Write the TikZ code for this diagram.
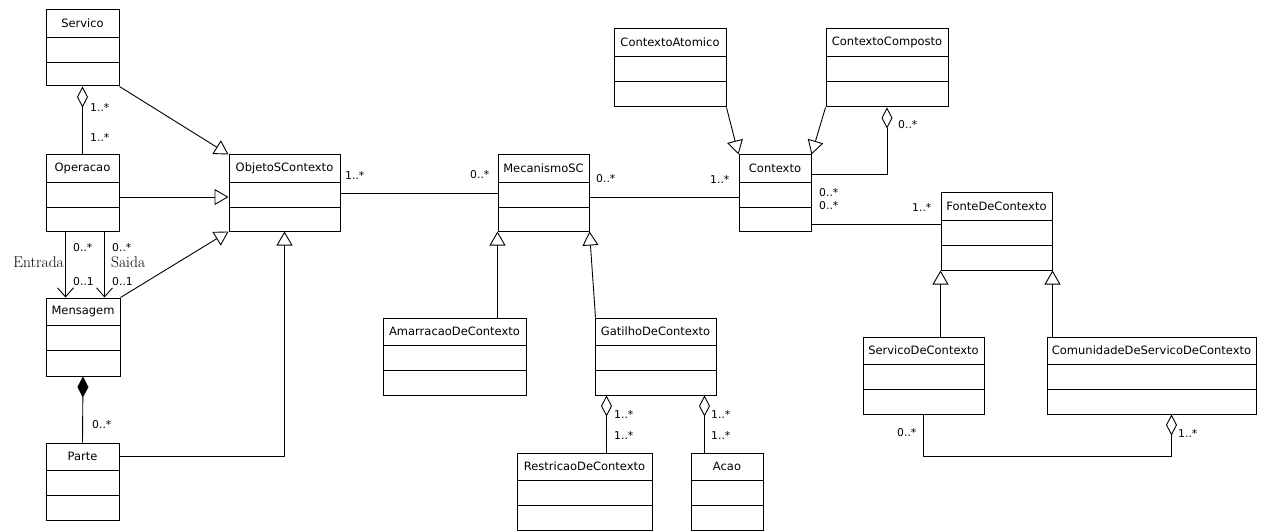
\documentclass[tikz,border=0pt]{standalone}
\usepackage{fontspec}
\newfontfamily\clsfont{DejaVu Sans}
\usetikzlibrary{arrows.meta,calc,fit}
\tikzset{
 cls/.style={draw, line width=1pt, inner sep=0pt},
 conn/.style={line width=0.9pt},
 gen/.style={conn, -{Triangle[open, length=14pt, width=16pt, line width=0.9pt]}},
 agg/.style={conn, {Diamond[open, length=21pt, width=11pt, line width=0.9pt]}-},
 comp/.style={conn, {Diamond[length=21pt, width=11pt]}-},
 nav/.style={conn, -{Straight Barb[length=9pt, width=16pt, line width=0.9pt]}},
 mult/.style={font=\clsfont\fontsize{10.8}{12}\selectfont, inner sep=0pt, anchor=west},
 cname/.style={font=\clsfont\fontsize{11.5}{13}\selectfont, inner sep=0pt},
 rolel/.style={font=\fontsize{15.5}{17}\selectfont, inner sep=0pt},
}
\newcommand\umlclass[6]{%
 \node[cls, fit={(#2,#3) (#4,#5)}] (#1) {};
 \node[cname] at ($(#1.north)+(0,14)$) {#6};
 \draw[line width=1pt] ($(#1.north west)+(0,28)$) -- ($(#1.north east)+(0,28)$);
 \draw[line width=1pt] ($(#1.north west)+(0,53)$) -- ($(#1.north east)+(0,53)$);
}
\begin{document}
\begin{tikzpicture}[x=1pt, y=-1pt]
\useasboundingbox (0,0) rectangle (1267,532);
% classes
\umlclass{servico}{46}{10}{119}{86}{Servico}
\umlclass{operacao}{46}{155}{119}{231}{Operacao}
\umlclass{objeto}{229}{155}{340}{231}{ObjetoSContexto}
\umlclass{mensagem}{46}{298}{120}{376}{Mensagem}
\umlclass{parte}{46}{443}{119}{520}{Parte}
\umlclass{mecanismo}{498}{155}{589}{231}{MecanismoSC}
\umlclass{amarracao}{383}{318}{526}{395}{AmarracaoDeContexto}
\umlclass{gatilho}{595}{318}{716}{395}{GatilhoDeContexto}
\umlclass{restricao}{517}{453}{652}{530}{RestricaoDeContexto}
\umlclass{acao}{691}{453}{763}{530}{Acao}
\umlclass{atomico}{614}{29}{726}{107}{ContextoAtomico}
\umlclass{composto}{826}{29}{948}{107}{ContextoComposto}
\umlclass{contexto}{739}{155}{811}{231}{Contexto}
\umlclass{fonte}{941}{193}{1052}{270}{FonteDeContexto}
\umlclass{servctx}{863}{337}{984}{414}{ServicoDeContexto}
\umlclass{comun}{1047}{337}{1256}{414}{ComunidadeDeServicoDeContexto}
% left part
\draw[agg] (servico.south) -- (operacao.north);
\draw[gen] (servico.south east) -- (objeto.north west);
\draw[gen] ($(operacao.east)+(0,4)$) -- ($(objeto.west)+(0,4)$);
\draw[gen] (mensagem.north east) -- (objeto.south west);
\draw[nav] ($(operacao.south west)+(20,0)$) coordinate (e1) -- (e1 |- mensagem.north);
\draw[nav] ($(operacao.south west)+(59,0)$) coordinate (s1) -- (s1 |- mensagem.north);
\draw[comp] (mensagem.south) -- (parte.north);
\draw[gen] ($(parte.north east)+(0,14)$) -| (objeto.south);
% middle
\draw[conn] (objeto.east) -- (mecanismo.west);
\draw[conn] ($(mecanismo.east)+(0,4)$) coordinate (m1) -- (m1 -| contexto.west);
\draw[gen] (amarracao.north -| mecanismo.south west) -- (mecanismo.south west);
\draw[gen] ($(gatilho.north west)+(1,0)$) -- (mecanismo.south east);
\draw[agg] ($(gatilho.south west)+(12,0)$) coordinate (g1) -- (g1 |- restricao.north);
\draw[agg] ($(gatilho.south east)+(-12,0)$) coordinate (g2) -- (g2 |- acao.north);
% right
\draw[gen] (atomico.south east) -- (contexto.north west);
\draw[gen] (composto.south west) -- (contexto.north east);
\draw[agg] (composto.south) |- ($(contexto.north east)+(0,20)$);
\draw[conn] ($(contexto.south east)+(0,-7)$) coordinate (c1) -- (c1 -| fonte.west);
\draw[gen] (servctx.north -| fonte.south west) -- (fonte.south west);
\draw[gen] (comun.north -| fonte.south east) -- (fonte.south east);
\draw[agg] ($(comun.south)+(20,0)$) -- ++(0,42) -| (servctx.south);
% labels
\node[mult] (l1) at (90,107) {1..*};
\node[mult] (l2) at (90,137) {1..*};
\node[mult] (l3) at (73,248) {0..*};
\node[rolel, anchor=east] (l4) at (64,262) {Entrada};
\node[mult] (l5) at (73,282) {0..1};
\node[mult] (l6) at (112,248) {0..*};
\node[rolel, anchor=west] (l7) at (111,262) {Saida};
\node[mult] (l8) at (112,282) {0..1};
\node[mult] (l9) at (92,425) {0..*};
\node[mult] (l10) at (345,175) {1..*};
\node[mult] (l11) at (470,175) {0..*};
\node[mult] (l12) at (596,179) {0..*};
\node[mult] (l13) at (710,179) {1..*};
\node[mult] (l14) at (898,125) {0..*};
\node[mult] (l15) at (819,193) {0..*};
\node[mult] (l16) at (819,206) {0..*};
\node[mult] (l17) at (912,207) {1..*};
\node[mult] (l18) at (614,414) {1..*};
\node[mult] (l19) at (614,435) {1..*};
\node[mult] (l20) at (711,414) {1..*};
\node[mult] (l21) at (711,435) {1..*};
\node[mult] (l22) at (897,433) {0..*};
\node[mult] (l23) at (1178,433) {1..*};
\end{tikzpicture}
\end{document}
